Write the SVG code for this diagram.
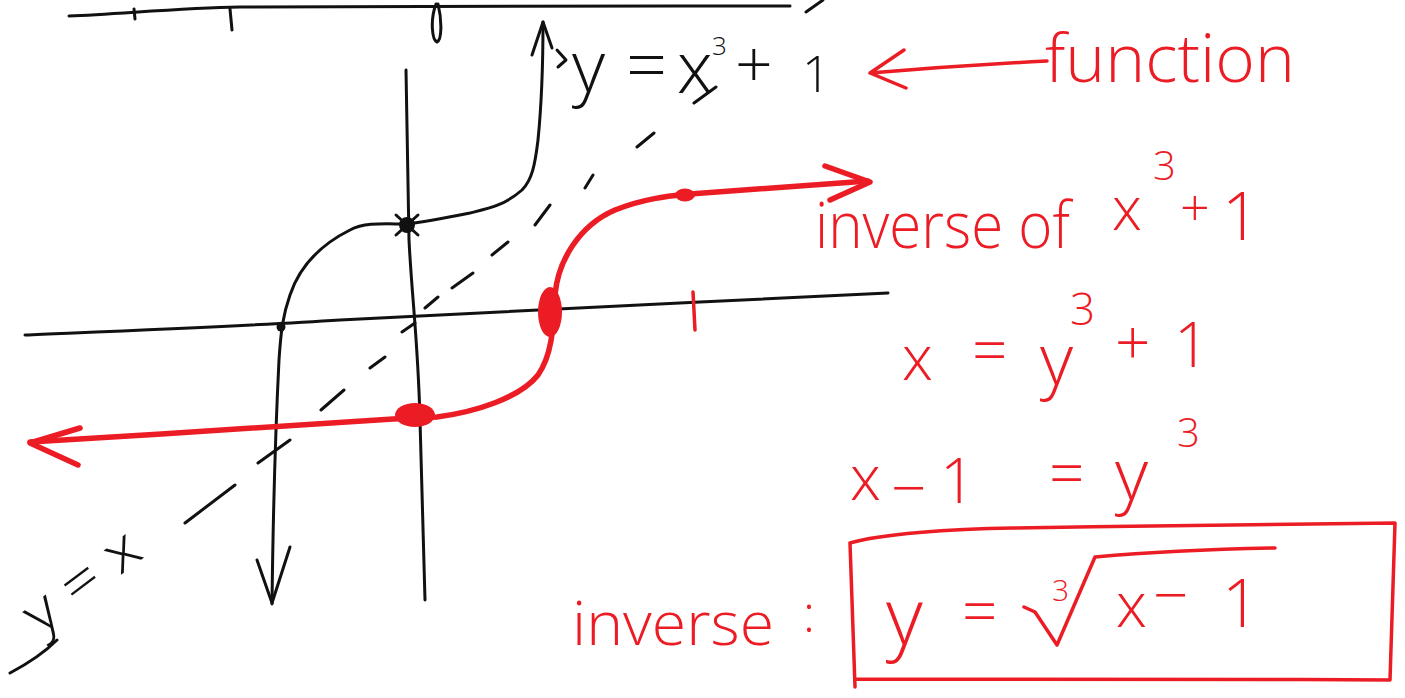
<svg xmlns="http://www.w3.org/2000/svg" width="1405" height="698" viewBox="0 0 1405 698">
<style>
.k{fill:none;stroke:#111;stroke-width:3;stroke-linecap:round;stroke-linejoin:round}
.r{fill:none;stroke:#ec1c24;stroke-width:3.5;stroke-linecap:round;stroke-linejoin:round}
.rc{fill:none;stroke:#ec1c24;stroke-width:5.5;stroke-linecap:round;stroke-linejoin:round}
.tk{font-family:"Open Sans","Liberation Sans",Arial,sans-serif;font-weight:300;fill:#111}
.tr{font-family:"Open Sans","Liberation Sans",Arial,sans-serif;font-weight:300;fill:#ec1c24}
</style>
<rect width="1405" height="698" fill="#fff"/>

<g id="title-underline">
<path class="k" d="M69,16 C120,14 180,8 240,7 C400,5 600,6 790,6"/>
<path class="k" d="M134,9 L135,19 M230,9 L232,30 M436,4 C430,20 432,40 437,42 C442,40 442,20 438,4"/>
</g>

<g id="axes">
<path class="k" d="M25,335 C120,331 250,326 340,320 C430,316 560,310 700,302 C780,298 840,295 888,293"/>
<path class="k" d="M406,70 C407,140 408,200 409,240 C412,300 418,340 420,420 C422,500 424,560 425,600"/>
</g>

<g id="dashed-y-equals-x">
<path class="k" d="M185,523 L235,485 M258,463 L290,440 M321,410 L344,390 M370,368 L385,357 M402,332 L415,323 M425,308 L438,297 M452,288 L473,273 M492,255 L508,242 M535,225 L550,205 M585,188 L593,175 M637,147 L654,133 M694,103 L716,87 M806,12 L823,0 M10,673 C25,665 45,652 57,640"/>
<text class="tk" font-size="56" textLength="132" lengthAdjust="spacingAndGlyphs" transform="translate(40,636) rotate(-37)">y = x</text>
</g>

<g id="function-curve">
<path class="k" d="M543,22 C543,60 541,110 538,140 C535,165 532,180 522,190 C505,205 490,208 470,213 C445,218 425,222 407,224 C385,224 365,222 350,230 C320,245 300,265 290,295 C283,315 281,330 279,360 C276,420 273,520 272,604"/>
<path class="k" d="M532,55 L543,22 L552,48 M557,50 L566,60 L558,67"/>
<path class="k" d="M257,560 L272,603 L290,547"/>
<circle cx="407" cy="225" r="8" fill="#111"/>
<path class="k" d="M396,215 L418,235 M418,215 L396,235"/>
<circle cx="281" cy="327" r="4.5" fill="#111"/>
<text class="tk" font-size="72"><tspan x="572" y="92">y</tspan><tspan x="626" y="91">=</tspan><tspan x="677" y="93">x</tspan></text>
<text class="tk" font-size="26" x="712" y="55">3</text>
<text class="tk" font-size="66" x="735" y="88">+</text>
<text class="tk" font-size="50" x="802" y="92">1</text>
</g>

<g id="inverse-curve">
<path class="rc" d="M30,442 C150,435 300,425 393,419 L437,417 C475,412 520,398 538,375 C552,355 553,330 555,295 C558,260 580,225 615,210 C645,198 670,196 690,194 C760,189 820,184 868,181"/>
<path class="rc" d="M80,428 L30,443 L78,465"/>
<path class="rc" d="M825,166 L870,182 L830,200"/>
<ellipse cx="415" cy="415" rx="20" ry="12" fill="#ec1c24"/>
<ellipse cx="550" cy="312" rx="12" ry="25" fill="#ec1c24"/>
<ellipse cx="685" cy="195" rx="10" ry="6.5" fill="#ec1c24"/>
<path class="r" d="M693,292 L695,330"/>
</g>

<g id="function-label">
<path class="r" d="M1047,61 C990,64 930,68 870,73 M904,50 L870,73 L906,88"/>
<text class="tr" font-size="66" x="1045" y="82" textLength="250" lengthAdjust="spacingAndGlyphs">function</text>
</g>

<g id="inverse-label">
<text class="tr" font-size="64" x="815" y="248" textLength="255" lengthAdjust="spacingAndGlyphs">inverse of</text>
<text class="tr" font-size="60" x="1112" y="230">x</text>
<text class="tr" font-size="40" x="1153" y="180">3</text>
<text class="tr" font-size="52" x="1180" y="226">+</text>
<text class="tr" font-size="66" x="1222" y="240">1</text>
</g>

<g id="step1">
<text class="tr" font-size="62" x="902" y="380">x</text>
<text class="tr" font-size="62" x="972" y="372">=</text>
<text class="tr" font-size="72" x="1040" y="385">y</text>
<text class="tr" font-size="44" x="1070" y="325">3</text>
<text class="tr" font-size="62" x="1115" y="365">+</text>
<text class="tr" font-size="62" x="1174" y="367">1</text>
</g>

<g id="step2">
<text class="tr" font-size="62" x="850" y="500">x</text>
<text class="tr" font-size="62" x="891" y="510">−</text>
<text class="tr" font-size="62" x="940" y="503">1</text>
<text class="tr" font-size="62" x="1049" y="495">=</text>
<text class="tr" font-size="72" x="1115" y="500">y</text>
<text class="tr" font-size="40" x="1177" y="447">3</text>
</g>

<g id="result">
<text class="tr" font-size="60" x="572" y="645" textLength="202" lengthAdjust="spacingAndGlyphs">inverse</text>
<text class="tr" font-size="50" x="803" y="632">:</text>
<path class="r" d="M850,543 C880,534 950,529 1013,528 C1150,526 1300,524 1395,523 L1390,680 C1200,679 1000,678 855,679 M850,543 L855,687"/>
<text class="tr" font-size="80" x="886" y="645">y</text>
<text class="tr" font-size="62" x="962" y="633">=</text>
<path class="r" d="M1024,607 L1035,612 L1057,645 L1095,557 C1150,552 1220,549 1275,548"/>
<text class="tr" font-size="30" x="1052" y="601">3</text>
<text class="tr" font-size="62" x="1116" y="627">x</text>
<text class="tr" font-size="62" x="1153" y="617">−</text>
<text class="tr" font-size="66" x="1222" y="627">1</text>
</g>
</svg>
